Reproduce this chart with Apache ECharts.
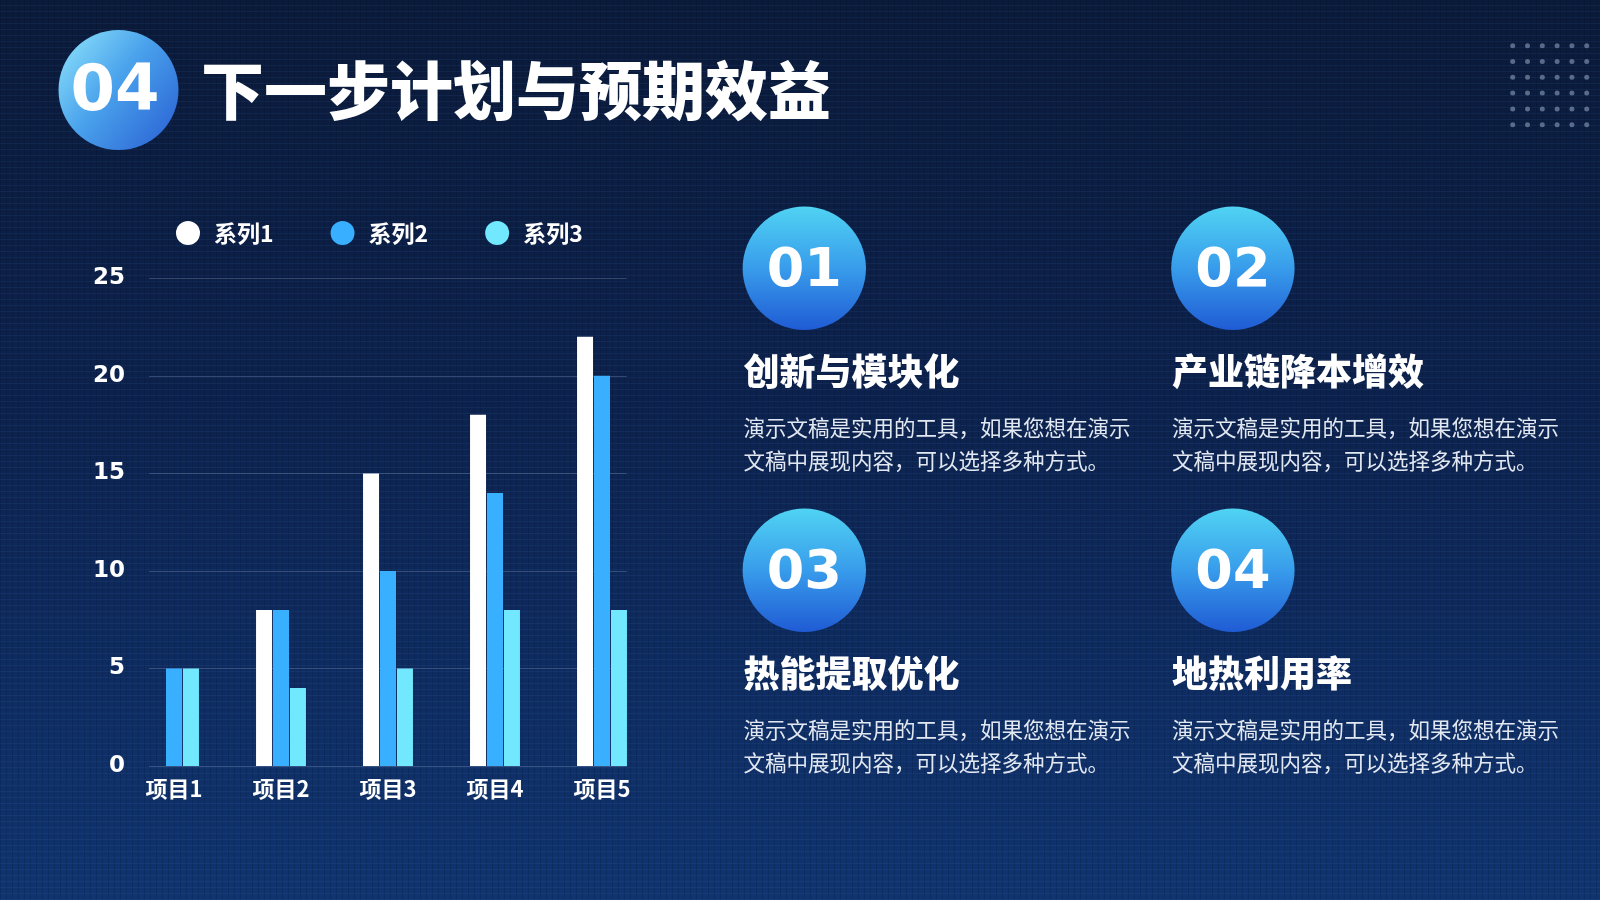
<!DOCTYPE html>
<html><head><meta charset="utf-8">
<script src="https://cdn.jsdelivr.net/npm/echarts/dist/echarts.min.js"></script>
<style>
html,body{margin:0;padding:0;width:1600px;height:900px;overflow:hidden;}
body{
  background:
    repeating-linear-gradient(0deg, rgba(90,150,230,0.08) 0px, rgba(90,150,230,0.08) 1px, transparent 1px, transparent 6px),
    repeating-linear-gradient(90deg, rgba(0,0,0,0.12) 0px, rgba(0,0,0,0.12) 1px, transparent 1px, transparent 6px),
    linear-gradient(180deg, #0a1a3a 0%, #0c224e 45%, #0e2c62 75%, #0f3470 100%);
}
#c{width:1600px;height:900px;}
</style></head>
<body><div id="c"></div>
<script>
// ---- data ----
const categories = ['项目1', '项目2', '项目3', '项目4', '项目5'];
const seriesNames = ['系列1', '系列2', '系列3'];
const series1 = [0, 8, 15, 18, 22];
const series2 = [5, 8, 10, 14, 20];
const series3 = [5, 4, 5, 8, 8];
const yMin = 0, yMax = 25, yStep = 5;
const pageTitle = '下一步计划与预期效益';
const sectionNo = '04';
const cardNos = ['01', '02', '03', '04'];
const cardTitles = ['创新与模块化', '产业链降本增效', '热能提取优化', '地热利用率'];
const cardBody = ['演示文稿是实用的工具，如果您想在演示', '文稿中展现内容，可以选择多种方式。'];

// ---- styles ----
const colors = ['#ffffff', '#38b0ff', '#72e8ff'];
const cjk = '"Noto Sans CJK SC", "Noto Sans", sans-serif';
const num = '"DejaVu Sans", sans-serif';

const chart = echarts.init(document.getElementById('c'), null, {renderer: 'canvas'});

const graphics = [];
// header circle + number + title
graphics.push({
  type: 'circle', shape: {cx: 118.5, cy: 90, r: 60},
  style: {fill: new echarts.graphic.LinearGradient(0, 0.1, 1, 0.9, [
    {offset: 0, color: '#8ae0fa'}, {offset: 0.45, color: '#4aa2ec'}, {offset: 1, color: '#2a62d4'}])}
});
graphics.push({
  type: 'text', x: 115, y: 93,
  style: {text: sectionNo, fill: '#fff', font: 'bold 64px ' + num, align: 'center', verticalAlign: 'middle'}
});
graphics.push({
  type: 'text', x: 201, y: 90,
  style: {text: pageTitle, fill: '#fff', font: '900 63px ' + cjk, align: 'left', verticalAlign: 'middle'}
});
// decorative dot grid (top right)
for (let i = 0; i < 6; i++) {
  for (let j = 0; j < 6; j++) {
    graphics.push({type: 'circle', shape: {cx: 1512.7 + i * 14.8, cy: 45.7 + j * 15.8, r: 2.5},
      style: {fill: 'rgba(140,160,190,0.6)'}});
  }
}
// cards
const cardPos = [[804.3, 268.3], [1232.9, 268.3], [804.3, 570.3], [1232.9, 570.3]];
cardNos.forEach((n, k) => {
  const [cx, cy] = cardPos[k];
  graphics.push({
    type: 'circle', shape: {cx: cx, cy: cy, r: 61.7},
    style: {fill: new echarts.graphic.LinearGradient(0, 0, 0, 1, [
      {offset: 0, color: '#50d3f3'}, {offset: 0.5, color: '#389ceb'}, {offset: 1, color: '#1f5bd4'}])}
  });
  graphics.push({
    type: 'text', x: cx, y: cy + 4,
    style: {text: n, fill: '#fff', font: 'bold 54px ' + num, align: 'center', verticalAlign: 'middle'}
  });
  const lx = cx - 60.8;
  graphics.push({
    type: 'text', x: lx, y: cy + 103,
    style: {text: cardTitles[k], fill: '#fff', font: '900 36px ' + cjk, align: 'left', verticalAlign: 'middle'}
  });
  cardBody.forEach((line, li) => {
    graphics.push({
      type: 'text', x: lx, y: cy + 159.5 + li * 33.5,
      style: {text: line, fill: '#e2e8f2', font: '21.5px ' + cjk, align: 'left', verticalAlign: 'middle'}
    });
  });
});

const option = {
  backgroundColor: 'transparent',
  animation: false,
  legend: {
    data: seriesNames, icon: 'circle', itemWidth: 24, itemHeight: 24, itemGap: 57,
    left: 171, top: 216,
    textStyle: {color: '#fff', fontSize: 23, fontWeight: 'bold', fontFamily: cjk, padding: [0, 0, 0, 9]}
  },
  grid: [
    {left: 149, top: 278.3, width: 477.7, height: 487.7, containLabel: false},
    {left: 120.5, top: 278.3, width: 535, height: 487.7, containLabel: false}
  ],
  xAxis: [
    {type: 'category', gridIndex: 0, data: categories, show: false},
    {type: 'category', gridIndex: 1, data: categories,
      axisLine: {show: false}, axisTick: {show: false},
      axisLabel: {color: '#fff', fontSize: 22, fontWeight: 'bold', fontFamily: cjk, margin: 12}}
  ],
  yAxis: [
    {type: 'value', gridIndex: 0, min: yMin, max: yMax, interval: yStep,
      axisLine: {show: false}, axisTick: {show: false},
      axisLabel: {color: '#fff', fontSize: 23, fontWeight: 'bold', fontFamily: num, margin: 24},
      splitLine: {lineStyle: {color: 'rgba(170,190,225,0.25)', width: 1}}},
    {type: 'value', gridIndex: 1, min: yMin, max: yMax, interval: yStep, show: false,
      splitLine: {show: false}}
  ],
  series: [series1, series2, series3].map((d, i) => ({
    name: seriesNames[i], type: 'bar', xAxisIndex: 1, yAxisIndex: 1,
    data: d, barWidth: 16, barGap: '6%',
    itemStyle: {color: colors[i]}
  })),
  graphic: graphics
};
chart.setOption(option);
</script>
</body></html>
